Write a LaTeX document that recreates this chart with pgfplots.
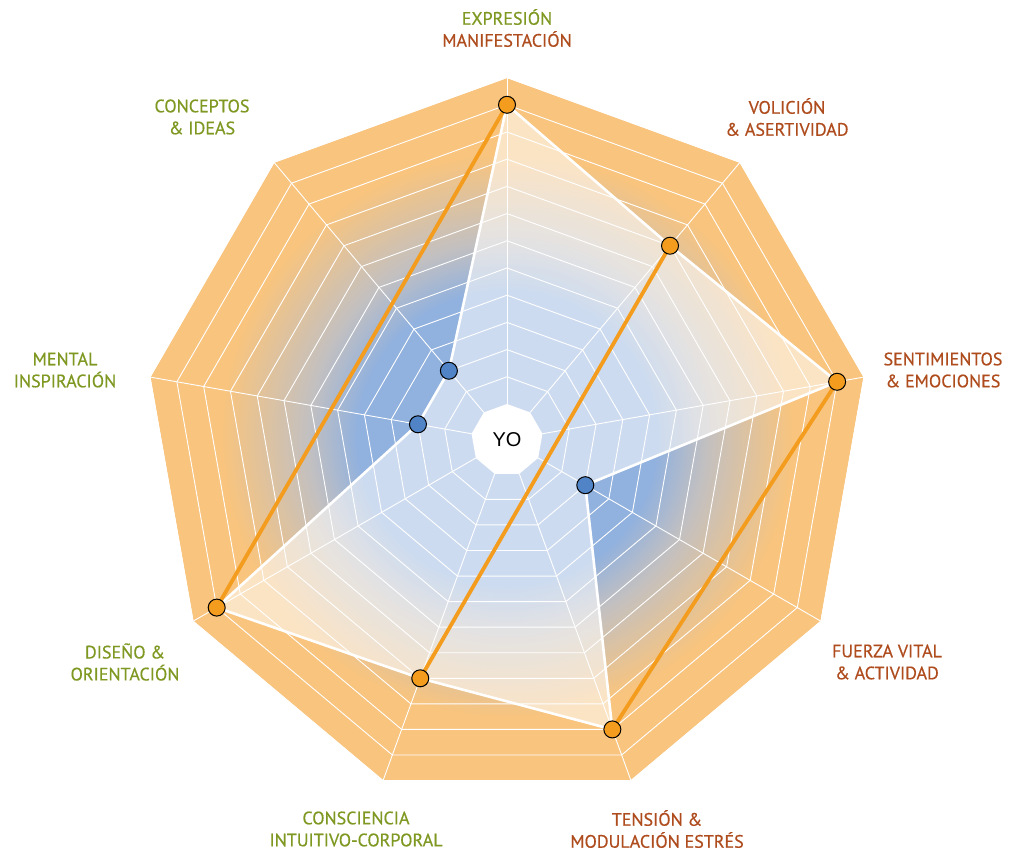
\documentclass[border=0pt]{standalone}
\usepackage{pgfplots}
\pgfplotsset{compat=1.18}
\usepackage{pgfplotstable}
\usepackage{fontspec}
\setmainfont{PT Sans}
\newfontfamily\labfont{PT Sans}[FakeBold=0.5]
\newfontfamily\yofont{Liberation Sans}

\definecolor{bblue}{RGB}{145,177,222}
\definecolor{borange}{RGB}{248,196,126}
\definecolor{bmid}{RGB}{195,192,192}
\definecolor{lgreen}{RGB}{126,152,34}
\definecolor{lbrown}{RGB}{174,76,30}
\definecolor{mko}{RGB}{243,156,30}
\definecolor{mkb}{RGB}{80,132,198}

\pgfdeclareradialshading{bgshade}{\pgfpoint{0bp}{-0.8bp}}{%
  color(0bp)=(bblue); color(10.5bp)=(bblue); color(14bp)=(bmid); color(20bp)=(borange); color(50bp)=(borange)}

% values on a 0..12 scale, angle of each axis in degrees
\pgfplotstableread{
ang v
90 11
50 8
10 11
-30 2
-70 10
-110 8
-150 11
-190 2
-230 2
-270 11
}\datatab
\pgfplotstableread{
ang k
90 1
50 1
10 1
-30 1
-70 1
-110 1
-150 1
-190 1
-230 1
-270 1
}\angtab
\pgfplotstableread{
ang v
90 11
50 8
10 11
-70 10
-110 8
-150 11
}\hipts
\pgfplotstableread{
ang v
-30 2
-190 2
-230 2
}\lopts
\pgfplotstableread{
ang v
90 11
-150 11
}\lineA
\pgfplotstableread{
ang v
50 8
-110 8
}\lineB
\pgfplotstableread{
ang v
10 11
-70 10
}\lineC

\begin{document}
\begin{tikzpicture}
\begin{axis}[
  x=1pt, y=1pt, xmin=-507, xmax=503, ymin=-412, ymax=440,
  hide axis, scale only axis, clip=false,
]
\addplot[draw=none, forget plot] coordinates {(-507,-412) (503,440)};
\addplot[draw=none, shade, shading=bgshade, data cs=polar] table[x=ang, y expr=362] {\angtab};
\pgfplotsinvokeforeach{1,...,12}{
  \addplot[white, line width=0.9pt, data cs=polar] table[x=ang, y expr={36+27.2*#1}] {\angtab};
}
\pgfplotsinvokeforeach{90,50,10,-30,-70,-110,-150,-190,-230}{
  \addplot[white, line width=0.9pt, data cs=polar] coordinates {(#1,36) (#1,362)};
}
\addplot[draw=white, line width=2.6pt, fill=white, fill opacity=0.55, data cs=polar] table[x=ang, y expr={36+27.2*\thisrow{v}}] {\datatab};
\addplot[mko, line width=3.8pt, data cs=polar] table[x=ang, y expr={36+27.2*\thisrow{v}}] {\lineA};
\addplot[mko, line width=3.8pt, data cs=polar] table[x=ang, y expr={36+27.2*\thisrow{v}}] {\lineB};
\addplot[mko, line width=3.8pt, data cs=polar] table[x=ang, y expr={36+27.2*\thisrow{v}}] {\lineC};
\addplot[only marks, mark=*, mark size=8.5pt, mark options={draw=black, line width=1pt, fill=mko}, data cs=polar] table[x=ang, y expr={36+27.2*\thisrow{v}}] {\hipts};
\addplot[only marks, mark=*, mark size=8.5pt, mark options={draw=black, line width=1pt, fill=mkb}, data cs=polar] table[x=ang, y expr={36+27.2*\thisrow{v}}] {\lopts};
\addplot[fill=white, draw=none, data cs=polar] table[x=ang, y expr=36] {\angtab};
\node[font=\yofont\fontsize{20}{21}\selectfont] at (axis cs:0,0) {YO};

\tikzset{lab/.style={align=center, font=\labfont\fontsize{18}{22}\selectfont}}
\node[lab] at (axis cs:0,412) {\color{lgreen}EXPRESIÓN\\\color{lbrown}MANIFESTACIÓN};
\node[lab, lgreen] at (axis cs:-305,323) {CONCEPTOS\\\& IDEAS};
\node[lab, lbrown] at (axis cs:280,323) {VOLICIÓN\\\& ASERTIVIDAD};
\node[lab, lbrown] at (axis cs:436,70) {SENTIMIENTOS\\\& EMOCIONES};
\node[lab, lgreen] at (axis cs:-442,70) {MENTAL\\INSPIRACIÓN};
\node[lab, lgreen] at (axis cs:-382,-222) {DISEÑO \&\\ORIENTACIÓN};
\node[lab, lbrown] at (axis cs:380,-222) {FUERZA VITAL\\\& ACTIVIDAD};
\node[lab, lgreen] at (axis cs:-151,-389) {CONSCIENCIA\\INTUITIVO-CORPORAL};
\node[lab, lbrown] at (axis cs:150,-389) {TENSIÓN \&\\MODULACIÓN ESTRÉS};
\end{axis}
\end{tikzpicture}
\end{document}
